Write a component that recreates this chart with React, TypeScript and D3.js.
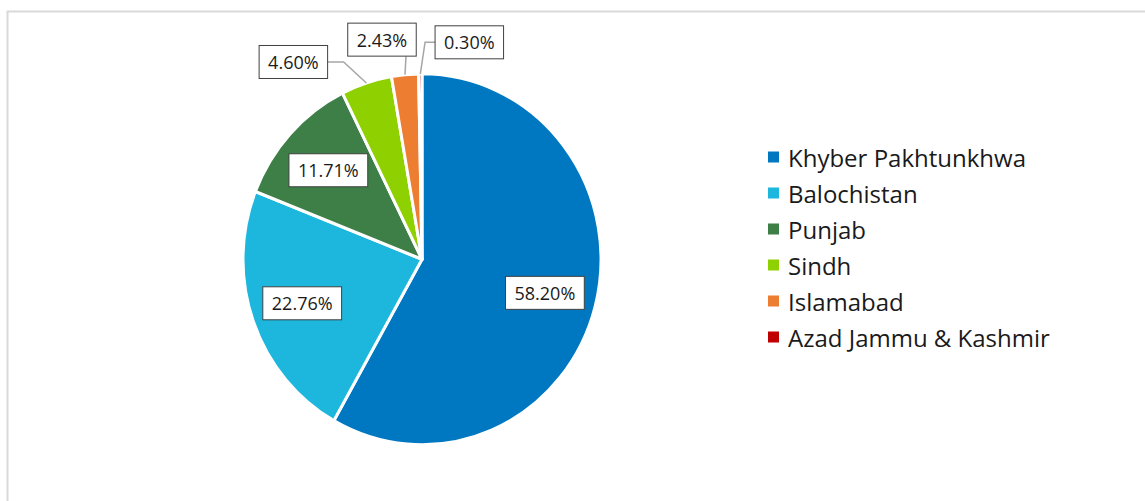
import React from "react";
import * as d3 from "d3";

const categories = ["Khyber Pakhtunkhwa", "Balochistan", "Punjab", "Sindh", "Islamabad", "Azad Jammu & Kashmir"];
const values = [58.2, 22.76, 11.71, 4.6, 2.43, 0.3];
const labels = ["58.20%", "22.76%", "11.71%", "4.60%", "2.43%", "0.30%"];
const colors = ["#0078c1", "#1db7dd", "#3d7f46", "#8ed000", "#ed7d31", "#c00000"];
// outside label placement: offset of box centre from slice edge point; null = inside
const outside: ({ dx: number; dy: number; anchor: string } | null)[] = [
  null, null, null,
  { dx: -73, dy: -21, anchor: "right" },
  { dx: -23, dy: -35, anchor: "bottom" },
  { dx: 49, dy: -31.5, anchor: "left" },
];

const W = 1145, H = 501;
const cx = 422, cy = 259.3;
const R = 179;
const sy = 185.5 / 179;
const FONT = "'Open Sans', 'Noto Sans', sans-serif";

export default function App() {
  const pie = d3.pie<number>().sort(null).value((d) => d).startAngle(0).endAngle(2 * Math.PI);
  const arcs = pie(values);
  const arcGen = d3.arc<d3.PieArcDatum<number>>().innerRadius(0).outerRadius(R);
  const labelArc = d3.arc<d3.PieArcDatum<number>>().innerRadius(R * 0.71).outerRadius(R * 0.71);

  const boxH = 33;
  const charW = 10.3;

  const legendY = d3.scaleBand<number>().domain(d3.range(categories.length)).range([139, 355]);

  return (
    <svg width={W} height={H} style={{ position: "absolute", left: 0, top: 0, background: "#fff" }}>
      <rect x={7.5} y={11.5} width={1300} height={700} fill="none" stroke="#d9d9d9" strokeWidth={2} />
      <g transform={`translate(${cx},${cy}) scale(1,${sy})`}>
        {arcs.map((a, i) => (
          <path key={i} d={arcGen(a) || ""} fill={colors[i]} stroke="#fff" strokeWidth={3} strokeLinejoin="round" />
        ))}
      </g>
      {arcs.map((a, i) => {
        const text = labels[i];
        const bw = text.length * charW + 17;
        const o = outside[i];
        let bx: number, by: number;
        let leader: string | null = null;
        if (!o) {
          const [lx, ly] = labelArc.centroid(a);
          bx = cx + lx;
          by = cy + ly * sy;
        } else {
          const mid = (a.startAngle + a.endAngle) / 2;
          const ex = cx + Math.sin(mid) * R;
          const ey = cy - Math.cos(mid) * R * sy;
          bx = ex + o.dx;
          by = ey + o.dy;
          const p = d3.path();
          p.moveTo(ex, ey);
          if (o.anchor === "right") {
            p.lineTo(bx + bw / 2 + 16, by);
            p.lineTo(bx + bw / 2, by);
          } else if (o.anchor === "left") {
            p.lineTo(bx - bw / 2 - 10, by);
            p.lineTo(bx - bw / 2, by);
          } else {
            p.lineTo(ex + 1, by + boxH / 2);
          }
          leader = p.toString();
        }
        return (
          <g key={i}>
            {leader && <path d={leader} fill="none" stroke="#a6a6a6" strokeWidth={1.5} />}
            <rect x={bx - bw / 2} y={by - boxH / 2} width={bw} height={boxH} fill="#fff" stroke="#404040" strokeWidth={1} />
            <text x={bx} y={by} textAnchor="middle" dominantBaseline="central" fontFamily={FONT} fontSize={18} fill="#1a1a1a">
              {text}
            </text>
          </g>
        );
      })}
      {categories.map((c, i) => {
        const y = (legendY(i) as number) + legendY.bandwidth() / 2;
        return (
          <g key={c}>
            <rect x={768} y={y - 5.5} width={11} height={11} fill={colors[i]} />
            <text x={788} y={y} dominantBaseline="central" fontFamily={FONT} fontSize={24} fill="#1a1a1a">
              {c}
            </text>
          </g>
        );
      })}
    </svg>
  );
}
